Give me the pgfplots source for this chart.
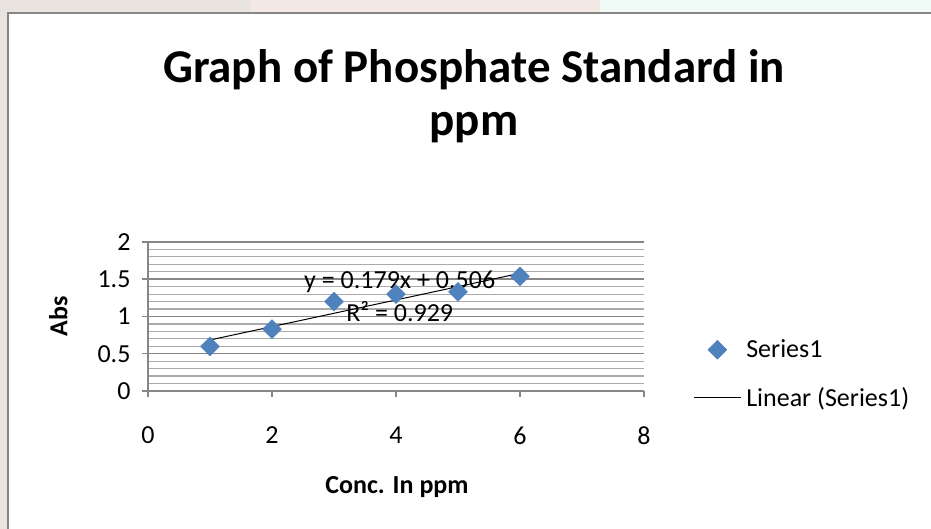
\documentclass[border=0pt]{standalone}
\usepackage{fontspec}
\setmainfont{Carlito}
\usepackage{pgfplots}
\pgfplotsset{compat=1.18}
\definecolor{gridmaj}{RGB}{134,134,134}
\definecolor{gridmin}{RGB}{170,170,170}
\definecolor{ptblue}{RGB}{79,129,189}
\definecolor{bgl}{RGB}{234,228,224}
\definecolor{bgm}{RGB}{244,232,228}
\definecolor{bgr}{RGB}{240,250,246}
\newcommand{\tfont}{\fontsize{26}{30}\selectfont}
\pgfplotsset{
  markleg/.style={legend image code/.code={\draw[mark repeat=2,mark phase=2,#1] plot coordinates {(0pt,0pt)(23.5pt,0pt)(47pt,0pt)};}},
  lineleg/.style={legend image code/.code={\draw[#1] (0pt,0pt) -- (47pt,0pt);}},
}
\begin{document}
\begin{tikzpicture}[x=1pt,y=1pt]
% slide background showing round the chart frame
\fill[white] (0,0) rectangle (931,529);
\fill[bgl] (0,0) rectangle (8,529);
\fill[bgl] (8,516) rectangle (250,529);
\fill[bgm] (250,516) rectangle (600,529);
\fill[bgr] (600,516) rectangle (931,529);
% title
\node[anchor=base, font=\fontsize{47}{56}\selectfont\bfseries] at (474,446) {Graph of Phosphate Standard in};
\node[anchor=base, font=\fontsize{47}{56}\selectfont\bfseries] at (474,393) {ppm};
\begin{axis}[
  at={(148pt,138pt)}, anchor=south west,
  scale only axis, width=496pt, height=149pt,
  xmin=0, xmax=8, ymin=0, ymax=2,
  xtick={0,2,4,6,8}, ytick={0,0.5,1,1.5,2},
  minor y tick num=4,
  axis lines*=left,
  axis line style={draw=gridmaj, line width=1.5pt, -},
  ymajorgrids, yminorgrids,
  major grid style={draw=gridmaj, line width=1.5pt},
  minor grid style={draw=gridmin, line width=1.2pt},
  tick align=outside, major tick length=6pt, minor tick length=0pt,
  tick style={draw=gridmaj, line width=1.5pt},
  ticklabel style={font=\tfont},
  /pgf/number format/assume math mode=true,
  xticklabel style={yshift=-26pt},
  yticklabel style={xshift=-8pt},
  xlabel={\bfseries Conc. In ppm},
  ylabel={\bfseries Abs},
  label style={font=\tfont},
  xlabel style={at={(axis description cs:0.502,-0.644)}, anchor=center},
  ylabel style={at={(axis description cs:-0.181,0.503)}, anchor=center},
  legend style={at={(axis description cs:1.099,0.114)}, anchor=west, draw=none, fill=none,
    inner sep=0pt, font=\tfont, row sep=24pt, column sep=0pt,
    nodes={inner xsep=5pt}, cells={anchor=west}},
  clip=false,
]
\addplot[only marks, mark=square*, mark size=6.7pt, color=ptblue,
  mark options={rotate=45}, markleg]
  coordinates {
  (1,0.60)
  (2,0.83)
  (3,1.20)
  (4,1.30)
  (5,1.33)
  (6,1.54)
};
\addlegendentry{Series1}
\addplot[black, line width=1pt, no marks, lineleg]
  coordinates {
  (1,0.685)
  (6,1.580)
};
\addlegendentry{Linear (Series1)}
\node[font=\tfont] at (axis cs:4.06,1.463) {y = 0.179x + 0.506};
\node[font=\tfont] at (axis cs:4.06,1.060) {R² = 0.929};
\end{axis}
\pgfresetboundingbox
\useasboundingbox (0,0) rectangle (931,529);
% keep the right edge white, then the chart frame on top
\fill[white] (915,0) rectangle (931,515);
\draw[gridmaj, line width=2pt] (8,0) -- (8,516) -- (931,516);
\end{tikzpicture}
\end{document}
